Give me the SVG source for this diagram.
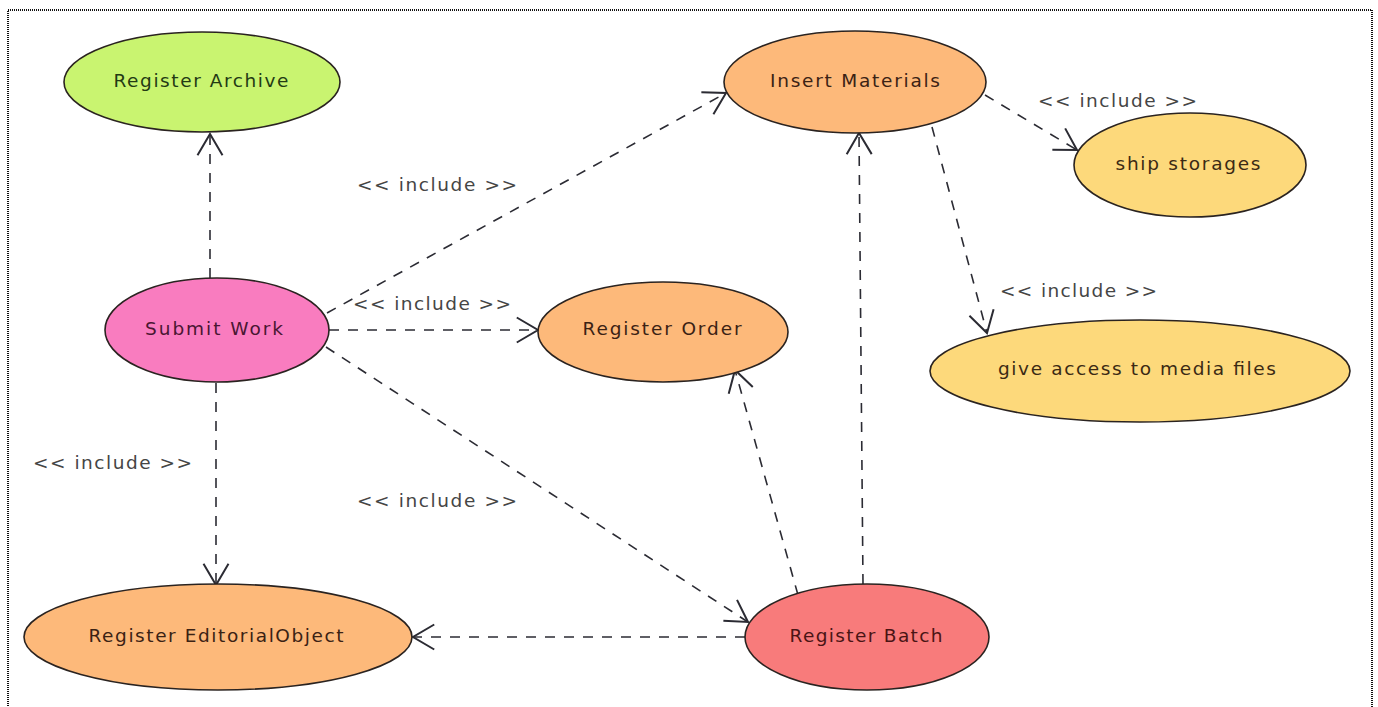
<svg xmlns="http://www.w3.org/2000/svg" width="1378" height="707" viewBox="0 0 1378 707">
<defs>
<style>
.uc{stroke:#2a2320;stroke-width:1.6}
.nt{font-family:"DejaVu Sans","Liberation Sans",sans-serif;font-size:18.5px;text-anchor:middle}
.lb{font-family:"DejaVu Sans","Liberation Sans",sans-serif;font-size:18.5px;fill:#454545}
.cn{fill:none;stroke:#2b2b33;stroke-width:1.6;stroke-dasharray:10 9;marker-end:url(#ah)}
</style>
<marker id="ah" markerUnits="userSpaceOnUse" markerWidth="30" markerHeight="30" viewBox="-20 -12 22 24" refX="0" refY="0" orient="auto">
<path d="M-17,-10 L0,0 L-17,10" fill="none" stroke="#2b2b33" stroke-width="1.6" stroke-dasharray="none"/>
</marker>
</defs>
<rect width="1378" height="707" fill="#ffffff"/>
<rect x="8" y="10" width="1364" height="720" fill="none" stroke="#111" stroke-width="2" stroke-dasharray="1 1"/>
<g id="connectors">
<line class="cn" x1="210" y1="278" x2="210" y2="134"/>
<line class="cn" x1="327" y1="313" x2="726" y2="93"/>
<line class="cn" x1="329" y1="330" x2="538" y2="330"/>
<line class="cn" x1="326" y1="347" x2="748" y2="622"/>
<line class="cn" x1="216" y1="383" x2="216" y2="585"/>
<line class="cn" x1="745" y1="637" x2="413" y2="637"/>
<line class="cn" x1="798" y1="595" x2="735" y2="370"/>
<line class="cn" x1="863" y1="584" x2="859" y2="133"/>
<line class="cn" x1="985" y1="95" x2="1077" y2="150"/>
<line class="cn" x1="932" y1="127" x2="987" y2="333"/>
<text class="lb" x="357" y="191" textLength="160" lengthAdjust="spacing">&lt;&lt; include &gt;&gt;</text>
<text class="lb" x="353" y="310" textLength="158" lengthAdjust="spacing">&lt;&lt; include &gt;&gt;</text>
<text class="lb" x="1038" y="107" textLength="159" lengthAdjust="spacing">&lt;&lt; include &gt;&gt;</text>
<text class="lb" x="1000" y="297" textLength="157" lengthAdjust="spacing">&lt;&lt; include &gt;&gt;</text>
<text class="lb" x="33" y="469" textLength="159" lengthAdjust="spacing">&lt;&lt; include &gt;&gt;</text>
<text class="lb" x="357" y="507" textLength="160" lengthAdjust="spacing">&lt;&lt; include &gt;&gt;</text>
</g>
<g id="register-archive">
<ellipse class="uc" cx="202" cy="82" rx="138" ry="50" fill="#c9f470"/>
<text class="nt" x="201" y="87" fill="#233a14" textLength="175" lengthAdjust="spacing">Register Archive</text>
</g>
<g id="submit-work">
<ellipse class="uc" cx="217" cy="330" rx="112" ry="52" fill="#f97cbf"/>
<text class="nt" x="214" y="335" fill="#4a1632" textLength="138" lengthAdjust="spacing">Submit Work</text>
</g>
<g id="register-order">
<ellipse class="uc" cx="663" cy="332" rx="125" ry="50" fill="#fdb97a"/>
<text class="nt" x="662" y="335" fill="#3b2214" textLength="159" lengthAdjust="spacing">Register Order</text>
</g>
<g id="insert-materials">
<ellipse class="uc" cx="855" cy="82" rx="131" ry="51" fill="#fdb97a"/>
<text class="nt" x="855" y="87" fill="#3b2214" textLength="170" lengthAdjust="spacing">Insert Materials</text>
</g>
<g id="register-editorialobject">
<ellipse class="uc" cx="218" cy="637" rx="194" ry="53" fill="#fdb97a"/>
<text class="nt" x="216" y="642" fill="#3b2214" textLength="255" lengthAdjust="spacing">Register EditorialObject</text>
</g>
<g id="register-batch">
<ellipse class="uc" cx="867" cy="637" rx="122" ry="53" fill="#f87b7b"/>
<text class="nt" x="866" y="642" fill="#4a1414" textLength="153" lengthAdjust="spacing">Register Batch</text>
</g>
<g id="ship-storages">
<ellipse class="uc" cx="1190" cy="165" rx="116" ry="52" fill="#fdd97b"/>
<text class="nt" x="1188" y="170" fill="#3b2a14" textLength="145" lengthAdjust="spacing">ship storages</text>
</g>
<g id="give-access">
<ellipse class="uc" cx="1140" cy="371" rx="210" ry="51" fill="#fdd97b"/>
<text class="nt" x="1137" y="375" fill="#3b2a14" textLength="278" lengthAdjust="spacing">give access to media files</text>
</g>
</svg>
